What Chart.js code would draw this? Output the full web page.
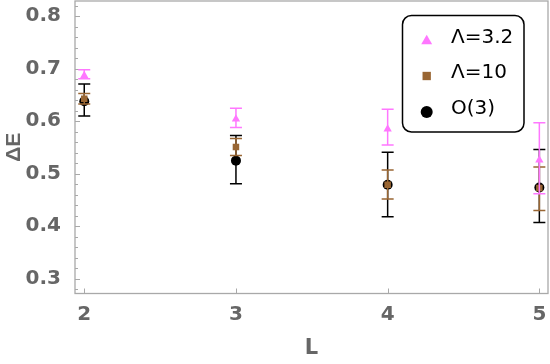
<!DOCTYPE html>
<html>
<head>
<meta charset="utf-8">
<script src="https://cdn.jsdelivr.net/npm/chart.js@4.4.1/dist/chart.umd.min.js"></script>
<style>
  html, body { margin: 0; padding: 0; background: #fff; }
  #wrap { width: 550px; height: 364px; }
</style>
</head>
<body>
<div id="wrap"><canvas id="chart" width="550" height="364"></canvas></div>
<script>
// system sizes
const sizes = [2, 3, 4, 5];

// Λ=3.2
const lam32 = [0.687, 0.604, 0.585, 0.526];
const lam32Lo = [0.681, 0.588, 0.555, 0.462];
const lam32Hi = [0.698, 0.625, 0.623, 0.597];

// Λ=10
const lam10 = [0.643, 0.551, 0.479, 0.473];
const lam10Lo = [0.633, 0.535, 0.452, 0.430];
const lam10Hi = [0.653, 0.567, 0.507, 0.513];

// O(3)
const o3 = [0.638, 0.525, 0.479, 0.474];
const o3Lo = [0.610, 0.481, 0.418, 0.407];
const o3Hi = [0.671, 0.573, 0.541, 0.546];

const xTicks = [2, 3, 4, 5];
const yTicks = [0.3, 0.4, 0.5, 0.6, 0.7, 0.8];
const yMinorStep = 0.02;

const PINK = "#ff77ff";
const BROWN = "#996633";
const BLACK = "#000000";
const FRAME = "#a9a9a9";
const LABEL = "#666666";

function pts(ys) {
  return sizes.map((x, i) => ({ x: x, y: ys[i] }));
}

// error bars, drawn under the markers of their own dataset
const errorBars = {
  id: "errorBars",
  beforeDatasetDraw(chart, args) {
    const ds = chart.data.datasets[args.index];
    if (!ds.lo) return;
    const xs = chart.scales.x;
    const ys = chart.scales.y;
    const ctx = chart.ctx;
    ctx.save();
    ctx.strokeStyle = ds.borderColor;
    ctx.lineWidth = 1.5;
    ds.data.forEach((p, i) => {
      const px = xs.getPixelForValue(p.x);
      const top = ys.getPixelForValue(ds.hi[i]);
      const bot = ys.getPixelForValue(ds.lo[i]);
      ctx.beginPath();
      ctx.moveTo(px, top);
      ctx.lineTo(px, bot);
      ctx.moveTo(px - 6, top);
      ctx.lineTo(px + 6, top);
      ctx.moveTo(px - 6, bot);
      ctx.lineTo(px + 6, bot);
      ctx.stroke();
    });
    ctx.restore();
  },
};

// gray frame with inward ticks
const frame = {
  id: "frame",
  beforeDatasetsDraw(chart) {
    const ctx = chart.ctx;
    const a = chart.chartArea;
    const xs = chart.scales.x;
    const ys = chart.scales.y;
    ctx.save();
    ctx.strokeStyle = FRAME;
    ctx.lineWidth = 1.3;
    ctx.strokeRect(a.left, a.top, a.right - a.left, a.bottom - a.top);
    ctx.lineWidth = 1;
    ctx.beginPath();
    yTicks.forEach((v) => {
      const py = Math.round(ys.getPixelForValue(v)) + 0.5;
      ctx.moveTo(a.left, py);
      ctx.lineTo(a.left + 5, py);
    });
    const k0 = Math.ceil(ys.min / yMinorStep);
    const k1 = Math.floor(ys.max / yMinorStep);
    for (let k = k0; k <= k1; k++) {
      if (k % 5 === 0) continue;
      const py = Math.round(ys.getPixelForValue(k * yMinorStep)) + 0.5;
      ctx.moveTo(a.left, py);
      ctx.lineTo(a.left + 3, py);
    }
    xTicks.forEach((v) => {
      const px = Math.round(xs.getPixelForValue(v)) + 0.5;
      ctx.moveTo(px, a.bottom);
      ctx.lineTo(px, a.bottom - 5);
    });
    ctx.stroke();
    ctx.restore();
  },
};

// legend box inside the plot
const boxLegend = {
  id: "boxLegend",
  afterDraw(chart) {
    const ctx = chart.ctx;
    ctx.save();
    ctx.fillStyle = "#fff";
    ctx.strokeStyle = "#000";
    ctx.lineWidth = 1.5;
    ctx.beginPath();
    ctx.roundRect(402.5, 15.5, 121.5, 116.5, 9);
    ctx.fill();
    ctx.stroke();
    const rows = [40, 75, 111];
    const sizesMk = { triangle: 6.3, rect: 5.9, circle: 6 };
    chart.data.datasets.forEach((ds, i) => {
      const y = rows[i];
      ctx.fillStyle = ds.backgroundColor;
      ctx.strokeStyle = ds.backgroundColor;
      Chart.helpers.drawPoint(ctx, {
        pointStyle: ds.pointStyle,
        radius: sizesMk[ds.pointStyle],
        rotation: 0,
        borderWidth: 0,
      }, 426.7, y + 1);
      ctx.fillStyle = "#000";
      ctx.font = "20px 'DejaVu Sans'";
      ctx.textBaseline = "middle";
      ctx.textAlign = "left";
      ctx.fillText(ds.label, 451, y - 2);
    });
    ctx.restore();
  },
};

const tickFont = { family: "'DejaVu Sans'", weight: "bold", size: 20 };

new Chart(document.getElementById("chart"), {
  type: "scatter",
  data: {
    datasets: [
      {
        label: "Λ=3.2",
        data: pts(lam32),
        lo: lam32Lo,
        hi: lam32Hi,
        pointStyle: "triangle",
        pointRadius: 4.8,
        backgroundColor: PINK,
        borderColor: PINK,
        borderWidth: 0,
      },
      {
        label: "Λ=10",
        data: pts(lam10),
        lo: lam10Lo,
        hi: lam10Hi,
        pointStyle: "rect",
        pointRadius: 4.6,
        backgroundColor: BROWN,
        borderColor: BROWN,
        borderWidth: 0,
      },
      {
        label: "O(3)",
        data: pts(o3),
        lo: o3Lo,
        hi: o3Hi,
        pointStyle: "circle",
        pointRadius: 5,
        backgroundColor: BLACK,
        borderColor: BLACK,
        borderWidth: 0,
      },
    ],
  },
  options: {
    responsive: false,
    animation: false,
    layout: { autoPadding: false, padding: { top: 1, right: 2, left: 0, bottom: 0 } },
    plugins: {
      legend: { display: false },
      tooltip: { enabled: false },
    },
    scales: {
      x: {
        type: "linear",
        min: 1.939,
        max: 5.057,
        afterBuildTicks: (s) => { s.ticks = xTicks.map((v) => ({ value: v })); },
        afterFit: (s) => {
          s.height = 70.5;
          s.paddingLeft = 0;
          s.paddingRight = 0;
        },
        grid: { display: false },
        border: { display: false },
        ticks: { color: LABEL, font: tickFont, padding: 1, maxRotation: 0 },
        title: {
          display: true,
          text: "L",
          color: LABEL,
          font: { family: "'DejaVu Sans'", weight: "bold", size: 21 },
          padding: { top: 0, bottom: 3 },
        },
      },
      y: {
        min: 0.272,
        max: 0.829,
        afterBuildTicks: (s) => { s.ticks = yTicks.map((v) => ({ value: v })); },
        afterFit: (s) => {
          s.width = 75;
          s.paddingTop = 0;
          s.paddingBottom = 0;
        },
        grid: { display: false },
        border: { display: false },
        ticks: {
          color: LABEL,
          font: tickFont,
          padding: 6,
          callback: (v) => v.toFixed(1),
        },
        title: {
          display: true,
          text: "ΔE",
          color: LABEL,
          font: { family: "'Liberation Sans'", weight: "bold", size: 21 },
          padding: { top: 2, bottom: 0 },
        },
      },
    },
  },
  plugins: [frame, errorBars, boxLegend],
});
</script>
</body>
</html>
